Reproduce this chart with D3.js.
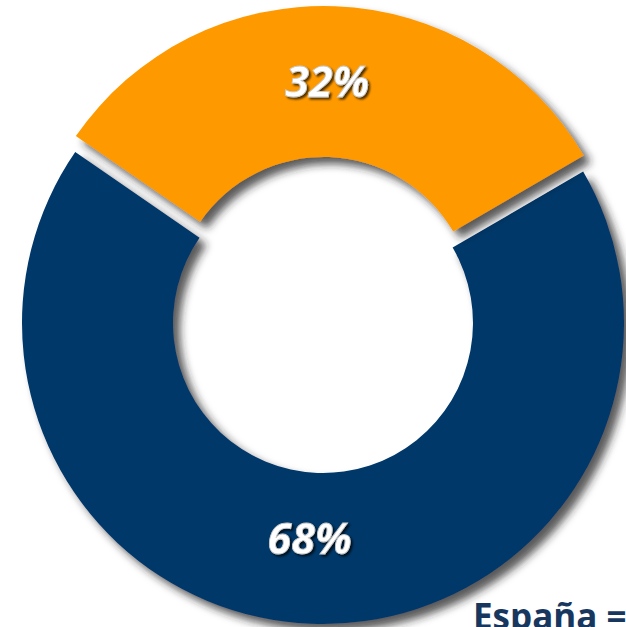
<!DOCTYPE html>
<html>
  <head>
    <meta charset="utf-8">
    <title>España donut</title>
    <script src="https://d3js.org/d3.v7.min.js"></script>
    <style>
      body { margin: 0; background: #ffffff; }
      svg { display: block; }
    </style>
  </head>
  <body>
    <div id="donut"></div>

    <script>
    // data
    var categories = ["Otros", "España"];
    var shares = [32, 68];
    var labels = ["32%", "68%"];
    var colors = ["#ff9900", "#053769"];

    var width = 626,
        height = 627;

    var cx = 323, cy = 323,
        outerR = 301, innerR = 150,
        explode = 16;

    var svg = d3.select("#donut")
      .append("svg")
        .attr("width", width)
        .attr("height", height);

    // drop shadow for the ring pieces
    var defs = svg.append("defs");
    var f = defs.append("filter")
        .attr("id", "shadow")
        .attr("x", "-20%").attr("y", "-20%")
        .attr("width", "140%").attr("height", "140%");
    f.append("feDropShadow")
        .attr("dx", 7).attr("dy", 7)
        .attr("stdDeviation", 4)
        .attr("flood-color", "#222")
        .attr("flood-opacity", 0.75);

    // shadow under the white labels
    var tf = defs.append("filter")
        .attr("id", "txtshadow")
        .attr("x", "-20%").attr("y", "-30%")
        .attr("width", "140%").attr("height", "160%");
    tf.append("feDropShadow")
        .attr("dx", 2).attr("dy", 2)
        .attr("stdDeviation", 1.2)
        .attr("flood-color", "#000")
        .attr("flood-opacity", 0.7);

    var start = -55.4 * Math.PI / 180;
    var pie = d3.pie()
        .sort(null)
        .startAngle(start)
        .endAngle(start + 2 * Math.PI);

    var arcs = pie(shares);

    var arc = d3.arc()
        .innerRadius(innerR)
        .outerRadius(outerR);

    // label radius for each slice
    var labelR = [226, 216];

    var g = svg.append("g")
        .attr("transform", "translate(" + cx + "," + cy + ")");

    // first slice pulled out of the ring
    function offset(d, i) {
      if (i !== 0) return "translate(0,0)";
      var mid = (d.startAngle + d.endAngle) / 2;
      return "translate(" + (explode * Math.sin(mid)) + "," + (-explode * Math.cos(mid)) + ")";
    }

    var slices = g.selectAll("g.slice")
      .data(arcs)
      .enter()
      .append("g")
        .attr("class", "slice")
        .attr("transform", offset);

    // draw the navy piece first so the orange shadow lies on top of it
    slices.sort(function(a, b) { return b.index - a.index; });

    slices.append("path")
        .attr("d", arc)
        .attr("fill", function(d) { return colors[d.index]; })
        .attr("filter", "url(#shadow)");

    slices.append("text")
        .attr("transform", function(d) {
          var r = labelR[d.index];
          var c = d3.arc().innerRadius(r).outerRadius(r).centroid(d);
          return "translate(" + (c[0] - 5) + "," + c[1] + ")";
        })
        .attr("text-anchor", "middle")
        .attr("dy", "0.36em")
        .attr("font-family", "'Open Sans', sans-serif")
        .attr("font-weight", "bold")
        .attr("font-style", "italic")
        .attr("font-size", 43)
        .attr("fill", "#ffffff")
        .attr("stroke", "#c8c8c8")
        .attr("stroke-width", 0.8)
        .attr("filter", "url(#txtshadow)")
        .text(function(d) { return labels[d.index]; });

    // caption, cut off by the edge of the picture as in the original
    svg.append("text")
        .attr("x", 473)
        .attr("y", 629)
        .attr("font-family", "'Open Sans', sans-serif")
        .attr("font-weight", "bold")
        .attr("font-size", 35)
        .attr("fill", "#17375e")
        .text(categories[1] + " =");
    </script>
  </body>
</html>
